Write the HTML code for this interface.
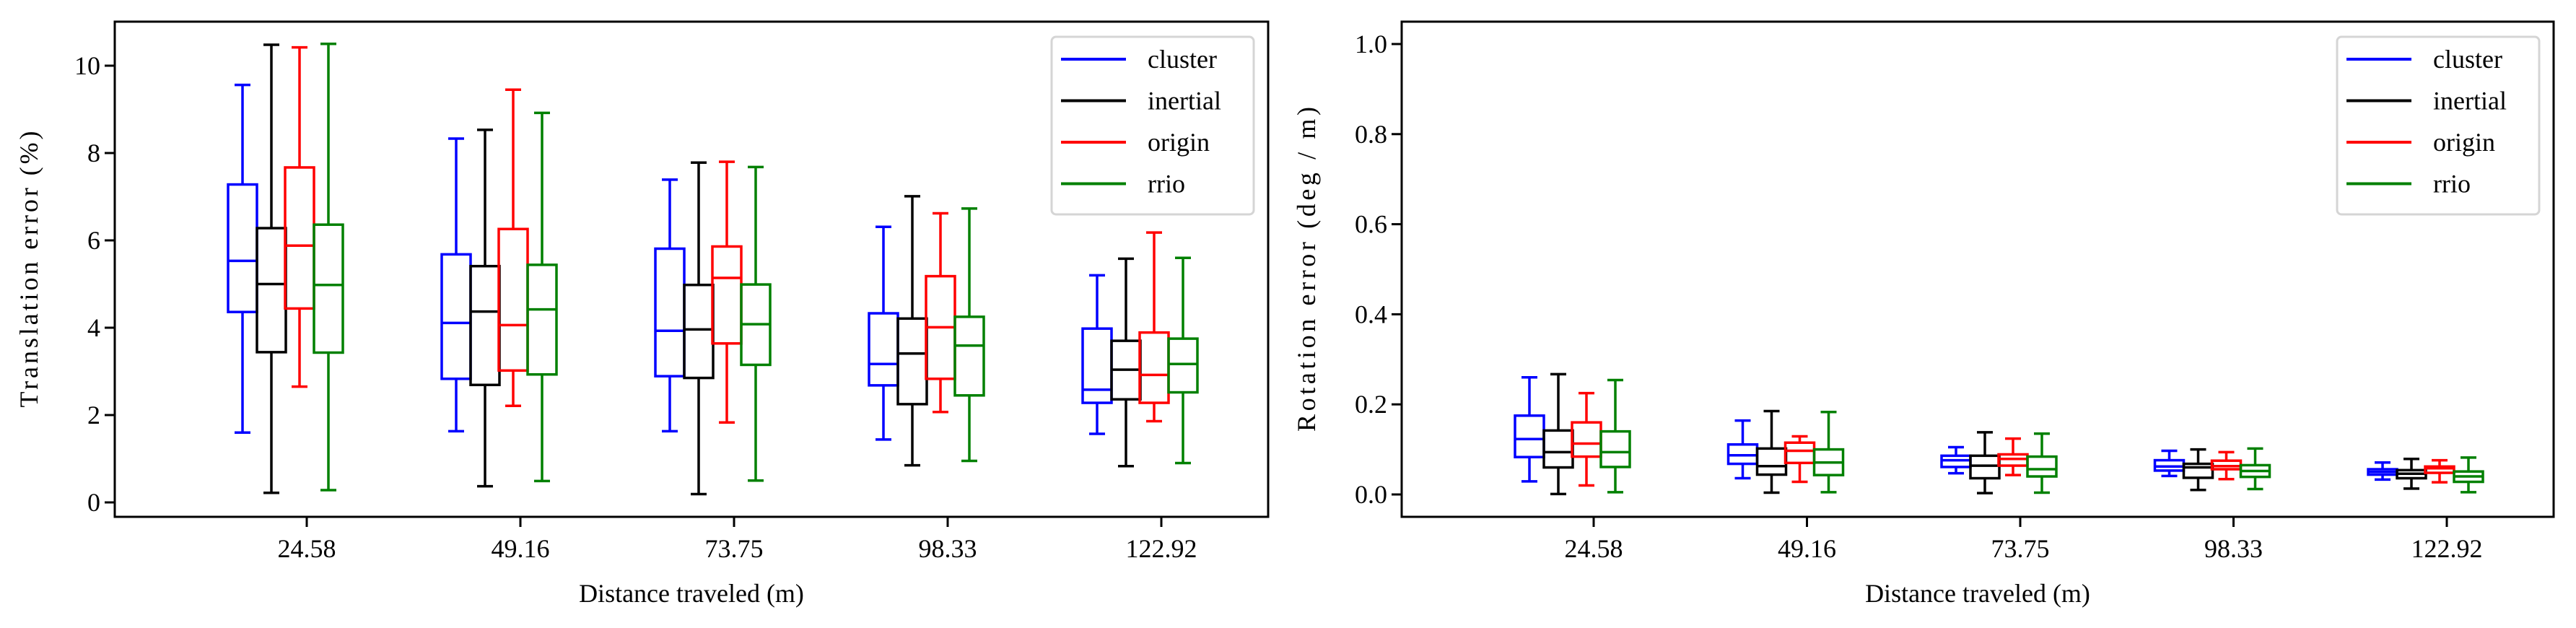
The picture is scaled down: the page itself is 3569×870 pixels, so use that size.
<!DOCTYPE html>
<html><head><meta charset="utf-8">
<style>
html,body{margin:0;padding:0;background:#fff;}
svg{display:block;}
text{font-family:"Liberation Serif","DejaVu Serif",serif;fill:#000;}
</style></head>
<body>
<svg id="fig" width="3569" height="870" viewBox="0 0 3569 870" xmlns="http://www.w3.org/2000/svg"></svg>
<script>
const categories = ["24.58","49.16","73.75","98.33","122.92"];
const seriesNames = ["cluster","inertial","origin","rrio"];
const seriesColors = ["#0000ff","#000000","#ff0000","#008000"];
// [whiskerLow, Q1, median, Q3, whiskerHigh] per category
const transCluster = [[1.60,4.36,5.53,7.28,9.56],[1.63,2.83,4.11,5.68,8.33],[1.63,2.89,3.93,5.81,7.39],[1.44,2.68,3.17,4.33,6.31],[1.57,2.28,2.58,3.98,5.20]];
const transInertial = [[0.22,3.44,5.00,6.28,10.48],[0.37,2.69,4.37,5.41,8.53],[0.19,2.85,3.96,4.98,7.78],[0.85,2.25,3.41,4.21,7.01],[0.83,2.36,3.04,3.70,5.58]];
const transOrigin = [[2.65,4.44,5.88,7.67,10.42],[2.21,3.02,4.06,6.26,9.45],[1.83,3.64,5.14,5.86,7.80],[2.07,2.83,4.01,5.18,6.62],[1.86,2.28,2.92,3.89,6.18]];
const transRrio = [[0.28,3.43,4.98,6.36,10.50],[0.49,2.93,4.42,5.44,8.92],[0.50,3.15,4.08,4.99,7.68],[0.95,2.45,3.59,4.25,6.73],[0.90,2.52,3.17,3.75,5.60]];
const rotCluster = [[0.029,0.083,0.123,0.175,0.260],[0.036,0.068,0.087,0.111,0.164],[0.047,0.061,0.076,0.086,0.105],[0.041,0.053,0.062,0.076,0.097],[0.033,0.044,0.050,0.056,0.071]];
const rotInertial = [[0.001,0.060,0.094,0.142,0.267],[0.004,0.044,0.063,0.102,0.185],[0.003,0.036,0.064,0.086,0.138],[0.010,0.037,0.060,0.068,0.100],[0.013,0.036,0.046,0.054,0.079]];
const rotOrigin = [[0.020,0.084,0.113,0.160,0.225],[0.028,0.070,0.097,0.115,0.129],[0.043,0.064,0.079,0.089,0.124],[0.034,0.056,0.063,0.075,0.094],[0.027,0.048,0.058,0.062,0.076]];
const rotRrio = [[0.005,0.061,0.094,0.140,0.254],[0.005,0.043,0.071,0.100,0.183],[0.004,0.040,0.056,0.084,0.135],[0.012,0.039,0.052,0.065,0.102],[0.005,0.028,0.040,0.051,0.082]];
const transTicks = [0,2,4,6,8,10];
const rotTicks = [0.0,0.2,0.4,0.6,0.8,1.0];
const rotTickLabels = ["0.0","0.2","0.4","0.6","0.8","1.0"];

const NS="http://www.w3.org/2000/svg";
const svg=document.getElementById('fig');
function el(tag,attrs,parent){const e=document.createElementNS(NS,tag);for(const k in attrs)e.setAttribute(k,attrs[k]);(parent||svg).appendChild(e);return e;}

function drawPanel(cfg){
  const g=el('g',{});
  
  
  const L=cfg.left,R=cfg.right,T=30,B=716;
  const yScale=v=>cfg.y0-v*cfg.ppu;
  const xScale=i=>L+266+i*cfg.step;
  cfg.yTicks.forEach((t,i)=>{
    const y=yScale(t);
    const tl=el('line',{x1:L-14,x2:L,y1:y,y2:y,stroke:'#000','stroke-width':3},g);
    
    
    const tx=el('text',{x:L-20,y:y+12,'font-size':36,'text-anchor':'end'},g);
    
    
    tx.textContent=cfg.yLabels[i];
  });
  categories.forEach((c,i)=>{
    const x=xScale(i);
    const tl=el('line',{x1:x,x2:x,y1:B,y2:B+14,stroke:'#000','stroke-width':3},g);
    
    
    const tx=el('text',{x:x,y:772,'font-size':36,'text-anchor':'middle'},g);
    
    
    tx.textContent=c;
  });
  const offs=[-89,-49,-10,30];
  cfg.series.forEach((data,s)=>{
    const col=seriesColors[s];
    data.forEach((d,i)=>{
      const cx=xScale(i)+offs[s];
      const bg=el('g',{stroke:col,'stroke-width':3.5,fill:'none'},g);
      
      
      const [lo,q1,md,q3,hi]=d.map(yScale);
      el('line',{x1:cx,x2:cx,y1:lo,y2:q1},bg);
      el('line',{x1:cx,x2:cx,y1:q3,y2:hi},bg);
      el('line',{x1:cx-11,x2:cx+11,y1:lo,y2:lo},bg);
      el('line',{x1:cx-11,x2:cx+11,y1:hi,y2:hi},bg);
      el('rect',{x:cx-20,y:q3,width:40,height:Math.max(q1-q3,0.5)},bg);
      el('line',{x1:cx-20,x2:cx+20,y1:md,y2:md},bg);
    });
  });
  const frame=el('rect',{x:L,y:T,width:R-L,height:B-T,fill:'none',stroke:'#000','stroke-width':3},g);
  
  
  const lg=el('g',{},g);
  
  
  const lx=R-300;
  el('rect',{x:lx,y:51,width:280,height:246,rx:6,fill:'#fff',stroke:'#d5d5d5','stroke-width':3},lg);
  seriesNames.forEach((n,s)=>{
    const y=82+s*57.5;
    const e=el('g',{},lg);
    
    
    el('line',{x1:lx+13,x2:lx+103,y1:y,y2:y,stroke:seriesColors[s],'stroke-width':4},e);
    const t=el('text',{x:lx+133,y:y+12,'font-size':36},e);
    t.textContent=n;
  });
  const xl=el('text',{x:(L+R)/2,y:834,'font-size':36,'text-anchor':'middle'},g);
  
  
  xl.textContent='Distance traveled (m)';
  const yl=el('text',{x:0,y:0,'font-size':36,'text-anchor':'middle',textLength:cfg.ylLen,lengthAdjust:'spacing',transform:`translate(${cfg.ylx},${(T+B)/2}) rotate(-90)`},g);
  
  
  yl.textContent=cfg.yTitle;
}
drawPanel({name:'translation-error-chart',left:159,right:1757,y0:696,ppu:60.5,step:296,yTicks:transTicks,yLabels:transTicks.map(String),
  series:[transCluster,transInertial,transOrigin,transRrio],ylx:52,ylLen:383,yTitle:'Translation error (%)'});
drawPanel({name:'rotation-error-chart',left:1942,right:3538,y0:685,ppu:624,step:295.5,yTicks:rotTicks,yLabels:rotTickLabels,
  series:[rotCluster,rotInertial,rotOrigin,rotRrio],ylx:1822,ylLen:450,yTitle:'Rotation error (deg / m)'});
</script>
</body></html>
